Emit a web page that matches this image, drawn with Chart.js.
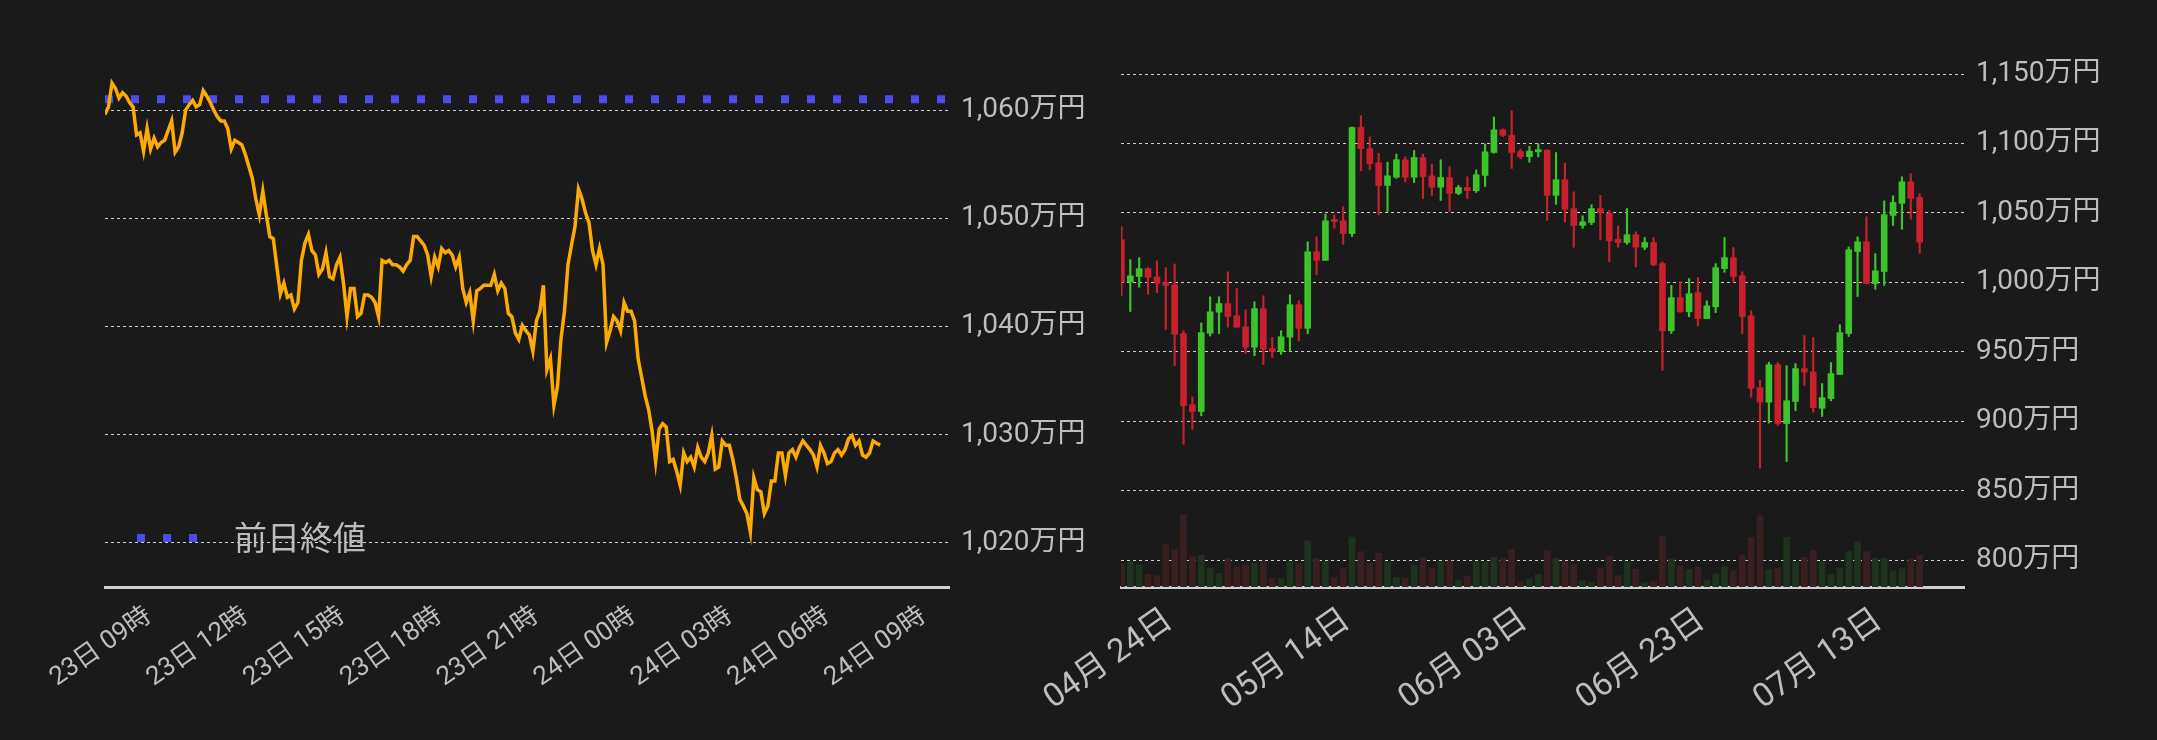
<!DOCTYPE html>
<html>
<head>
<meta charset="utf-8">
<script src="https://cdn.jsdelivr.net/npm/chart.js@4"></script>
<style>
  html, body { margin:0; padding:0; background:#1a1a1a; }
  #wrap { width:2157px; height:740px; position:relative; }
  canvas { position:absolute; top:0; }
</style>
</head>
<body>
<div id="wrap">
  <canvas id="dayChart" width="1110" height="740" style="left:0"></canvas>
  <canvas id="candleChart" width="1157" height="740" style="left:1000px"></canvas>
</div>
<script>
// ---- intraday (23日 09時 〜 24日 09時), 万円
var sampleMinutes = 6.52;
var prevClose = 1061.0;
var hourTicks = [0, 180, 360, 540, 720, 900, 1080, 1260, 1440];
var hourLabels = ['23日 09時','23日 12時','23日 15時','23日 18時','23日 21時','24日 00時','24日 03時','24日 06時','24日 09時'];
var lineValues = [1059.6,1060.3,1062.5,1062.0,1061.1,1061.6,1061.3,1060.7,1060.3,1057.7,1057.9,1056.2,1058.3,1056.4,1057.4,1056.6,1057.0,1057.2,1058.1,1059.0,
  1056.1,1056.6,1057.9,1060.0,1060.5,1060.9,1060.3,1060.5,1061.8,1061.3,1060.7,1060.0,1059.4,1059.0,1059.0,1058.3,1056.4,1057.2,1057.0,1056.8,
  1055.9,1054.8,1053.7,1051.8,1050.3,1052.5,1050.3,1048.3,1048.1,1045.5,1043.0,1044.0,1042.7,1042.9,1041.6,1042.2,1046.1,1047.7,1048.5,1047.0,
  1046.6,1044.8,1045.3,1046.8,1044.6,1044.4,1045.7,1046.4,1044.0,1040.9,1043.5,1043.5,1040.9,1041.2,1042.9,1042.9,1042.7,1042.2,1040.9,1046.1,
  1045.9,1046.1,1045.7,1045.7,1045.5,1045.1,1045.7,1046.1,1048.3,1048.3,1047.9,1047.5,1046.6,1044.6,1046.4,1045.5,1047.2,1046.8,1047.0,1046.6,
  1045.5,1046.4,1043.5,1042.2,1043.1,1040.5,1043.3,1043.5,1043.8,1043.8,1043.8,1044.8,1043.3,1044.0,1043.5,1041.2,1040.9,1039.4,1038.8,1040.1,
  1039.6,1039.2,1037.7,1040.5,1041.4,1043.8,1036.0,1037.0,1032.7,1034.4,1038.8,1041.4,1045.7,1047.5,1049.2,1052.7,1051.8,1050.5,1049.6,1047.0,
  1045.7,1047.2,1045.7,1038.5,1039.6,1040.9,1040.5,1039.6,1042.2,1041.4,1041.4,1040.5,1037.0,1035.3,1033.6,1032.3,1030.3,1027.5,1030.5,1031.0,
  1030.7,1027.5,1027.7,1026.6,1025.3,1028.3,1027.5,1027.9,1027.0,1028.8,1027.9,1027.5,1028.3,1029.9,1026.8,1027.0,1029.4,1029.0,1029.0,1027.7,
  1026.0,1024.0,1023.4,1022.7,1021.0,1026.0,1024.9,1024.7,1022.7,1023.4,1025.7,1025.7,1028.3,1028.3,1026.2,1028.3,1028.6,1027.9,1028.8,1029.4,
  1029.0,1028.6,1028.1,1027.0,1029.0,1028.3,1027.3,1027.5,1028.3,1028.6,1028.1,1028.6,1029.6,1029.9,1029.0,1029.4,1028.1,1027.9,1028.3,1029.4,
  1029.2,1029.0];

// ---- daily candles from 04月23日, 万円
var dayTicks = [1, 21, 41, 61, 81];
var dayLabels = ['04月 24日','05月 14日','06月 03日','06月 23日','07月 13日'];
var opens  = [1030.7,1000.3,1004.2,1009.9,1004.0,999.8,998.3,963.1,911.9,907.0,963.3,978.5,984.7,975.9,968.0,953.3,981.1,952.3,950.2,960.5,983.9,966.9,1022.0,1015.8,
  1044.5,1044.3,1035.1,1111.6,1096.3,1086.1,1069.8,1075.7,1088.3,1075.7,1089.9,1076.7,1068.5,1075.5,1064.1,1068.3,1066.0,1077.0,1093.5,1109.9,1105.8,1094.2,1090.5,1094.0,
  1095.2,1062.6,1073.9,1053.1,1041.0,1043.1,1053.1,1049.7,1031.0,1028.7,1034.3,1025.3,1028.7,1013.5,965.1,989.0,978.8,992.6,973.9,982.4,1009.9,1017.8,1004.7,975.9,
  924.2,913.7,940.7,898.3,914.2,937.9,935.5,909.3,916.3,933.7,963.1,1022.2,1029.2,999.1,1007.8,1048.2,1056.9,1072.4,1061.1];
var highs  = [1040.2,1016.3,1017.8,1010.6,1015.5,1010.6,1013.2,965.1,917.5,970.8,989.6,989.6,1007.6,995.5,980.3,986.0,990.3,960.2,965.1,991.1,986.7,1029.2,1032.8,1049.2,
  1048.7,1054.4,1112.0,1120.0,1104.8,1092.9,1086.5,1092.4,1090.4,1095.0,1092.4,1085.2,1088.3,1083.2,1069.8,1076.0,1081.0,1099.7,1119.0,1110.5,1123.5,1096.0,1098.0,1100.0,
  1095.6,1093.5,1085.8,1065.2,1047.9,1055.9,1062.6,1051.8,1040.7,1053.1,1036.4,1032.3,1032.3,1014.8,997.8,1000.4,1002.7,1003.4,986.7,1013.5,1032.3,1025.1,1007.6,979.5,
  929.6,942.5,942.2,940.0,941.5,961.8,960.2,927.1,942.2,969.5,1025.6,1032.8,1047.2,1020.7,1058.7,1062.3,1076.0,1078.3,1063.9];
var lows   = [990.5,979.0,996.5,991.4,992.6,966.1,939.9,883.3,894.1,903.9,961.3,963.1,967.7,967.7,948.9,947.1,940.7,945.8,948.1,950.5,957.9,963.1,1005.5,1015.8,
  1039.0,1027.4,1033.0,1080.3,1081.0,1048.6,1051.0,1074.9,1072.4,1071.9,1060.3,1062.6,1059.0,1051.0,1063.1,1060.3,1064.7,1069.0,1093.0,1105.0,1082.0,1089.0,1086.5,1090.4,
  1044.6,1056.2,1043.3,1025.3,1038.9,1041.5,1030.7,1015.0,1025.3,1027.4,1011.2,1023.5,1011.9,936.6,963.1,978.2,975.2,968.7,973.9,978.2,1007.3,1000.1,963.1,917.3,
  866.1,898.6,897.0,871.0,907.5,925.8,906.5,903.4,914.7,933.7,961.0,989.8,999.1,995.0,997.8,1041.0,1038.2,1045.4,1020.9];
var closes = [1000.3,1004.7,1009.9,1003.7,999.3,997.8,962.6,911.1,907.0,963.8,978.8,984.7,975.4,967.7,953.3,981.1,951.7,950.2,960.8,983.9,966.9,1022.0,1015.8,1044.3,
  1043.8,1035.1,1111.5,1096.3,1085.4,1069.7,1076.7,1088.3,1075.7,1089.9,1076.2,1068.5,1075.5,1064.1,1068.3,1066.0,1077.5,1094.0,1109.9,1105.8,1093.5,1090.5,1094.5,1095.5,
  1062.6,1073.9,1052.6,1041.0,1043.6,1053.1,1050.0,1029.9,1028.7,1034.3,1025.3,1028.7,1012.7,965.1,989.0,978.8,991.9,973.9,983.1,1010.6,1017.8,1004.2,975.4,923.7,
  913.7,940.7,898.3,914.7,937.9,935.3,909.8,917.0,934.3,963.8,1023.5,1029.2,999.1,1008.3,1048.7,1057.5,1072.4,1060.5,1028.9];
var volumes = [69,74,64,37,34,124,111,211,90,93,56,40,84,60,64,69,74,26,24,74,69,136,84,74,
  28,54,147,104,69,99,74,28,26,64,87,54,74,76,20,32,74,74,87,84,111,17,24,37,
  107,84,74,67,18,13,54,91,34,74,52,12,17,149,82,62,52,59,20,39,59,48,93,146,
  210,51,54,146,74,87,107,74,37,56,104,132,104,84,84,48,54,82,93];

Chart.defaults.font.family = "Roboto, 'Noto Sans CJK JP', sans-serif";
Chart.defaults.color = '#bdbdbd';
Chart.defaults.devicePixelRatio = 1;

function yen(v) { return v.toLocaleString('en-US') + '万円'; }
function noSidePad(s) { s.paddingLeft = 0; s.paddingRight = 0; }

// ---------- left: intraday line ----------
var linePts = lineValues.map(function (v, i) { return { x: i * sampleMinutes, y: v }; });

var legendPlugin = {
  id: 'prevLegend',
  afterDraw: function (chart) {
    var ctx = chart.ctx;
    ctx.save();
    ctx.fillStyle = '#4b4bf0';
    [137, 163, 189].forEach(function (x) { ctx.fillRect(x, 534, 8, 8); });
    ctx.fillStyle = '#bdbdbd';
    ctx.font = "33px 'Noto Sans CJK JP'";
    ctx.textBaseline = 'middle';
    ctx.fillText('前日終値', 234, 537);
    ctx.restore();
  }
};

new Chart(document.getElementById('dayChart'), {
  type: 'line',
  data: {
    datasets: [
      { data: linePts, borderColor: '#ffaa00', borderWidth: 3.5, pointRadius: 0, tension: 0 },
      { data: [{ x: 0, y: prevClose }, { x: 1569, y: prevClose }], borderColor: '#4b4bf0',
        borderWidth: 8, borderDash: [8, 18], borderCapStyle: 'butt', pointRadius: 0 }
    ]
  },
  options: {
    responsive: false,
    animation: false,
    layout: { padding: { left: 105, top: 56, right: 0, bottom: 0 } },
    plugins: { legend: { display: false }, tooltip: { enabled: false } },
    scales: {
      x: {
        type: 'linear', min: 0, max: 1569,
        afterBuildTicks: function (s) { s.ticks = hourTicks.map(function (v) { return { value: v }; }); },
        afterFit: function (s) { s.height = 153; noSidePad(s); },
        ticks: {
          autoSkip: false, minRotation: 35, maxRotation: 35, font: { size: 26 }, padding: 6, labelOffset: 44,
          callback: function (v) { var k = hourTicks.indexOf(v); return k >= 0 ? hourLabels[k] : ''; }
        },
        grid: { display: false },
        border: { display: true, color: '#cfcfcf', width: 3 }
      },
      y: {
        position: 'right', min: 1015.9, max: 1065,
        afterBuildTicks: function (s) { s.ticks = [1020, 1030, 1040, 1050, 1060].map(function (v) { return { value: v }; }); },
        afterFit: function (s) { s.width = 161; },
        ticks: { font: { size: 28 }, padding: 12, callback: yen },
        grid: { color: '#cfcfcf', lineWidth: 1, drawTicks: false, tickLength: 0 },
        border: { display: false, dash: [3, 3] }
      }
    }
  },
  plugins: [legendPlugin]
});

// ---------- right: daily candles ----------
var UP = '#3cc42a', DOWN = '#c8202c', UP_V = '#1e331e', DOWN_V = '#3a1f21';
function col(i) { return closes[i] >= opens[i] ? UP : DOWN; }
function colV(i) { return closes[i] >= opens[i] ? UP_V : DOWN_V; }

var wickData = opens.map(function (o, i) { return { x: i + 0.5, y: [lows[i], highs[i]] }; });
var bodyData = opens.map(function (o, i) { return { x: i + 0.5, y: [o, closes[i]] }; });
var volData = volumes.map(function (v, i) { return { x: i + 0.5, y: v }; });

new Chart(document.getElementById('candleChart'), {
  type: 'bar',
  data: {
    datasets: [
      { data: volData, yAxisID: 'yv', grouped: false, barThickness: 6,
        backgroundColor: function (c) { return colV(c.dataIndex); }, order: 3 },
      { data: wickData, grouped: false, barThickness: 1.5,
        backgroundColor: function (c) { return col(c.dataIndex); }, order: 2 },
      { data: bodyData, grouped: false, barThickness: 6, minBarLength: 2,
        backgroundColor: function (c) { return col(c.dataIndex); }, order: 1 }
    ]
  },
  options: {
    responsive: false,
    animation: false,
    layout: { padding: { left: 121, top: 56, right: 0, bottom: 0 } },
    plugins: { legend: { display: false }, tooltip: { enabled: false } },
    scales: {
      x: {
        type: 'linear', min: 0.45, max: 95.5, offset: false,
        afterBuildTicks: function (s) { s.ticks = dayTicks.map(function (v) { return { value: v }; }); },
        afterFit: function (s) { s.height = 153; noSidePad(s); },
        ticks: {
          autoSkip: false, minRotation: 35, maxRotation: 35, font: { size: 33 }, padding: 6, labelOffset: 44,
          callback: function (v) { var k = dayTicks.indexOf(v); return k >= 0 ? dayLabels[k] : ''; }
        },
        grid: { display: false },
        border: { display: true, color: '#cfcfcf', width: 3 }
      },
      y: {
        position: 'right', min: 780.6, max: 1163,
        afterBuildTicks: function (s) { s.ticks = [800, 850, 900, 950, 1000, 1050, 1100, 1150].map(function (v) { return { value: v }; }); },
        afterFit: function (s) { s.width = 193; },
        ticks: { font: { size: 28 }, padding: 12, callback: yen },
        grid: { color: '#cfcfcf', lineWidth: 1, drawTicks: false, tickLength: 0 },
        border: { display: false, dash: [3, 3] }
      },
      yv: { display: false, min: 0, max: 1560 }
    }
  }
});
</script>
</body>
</html>
